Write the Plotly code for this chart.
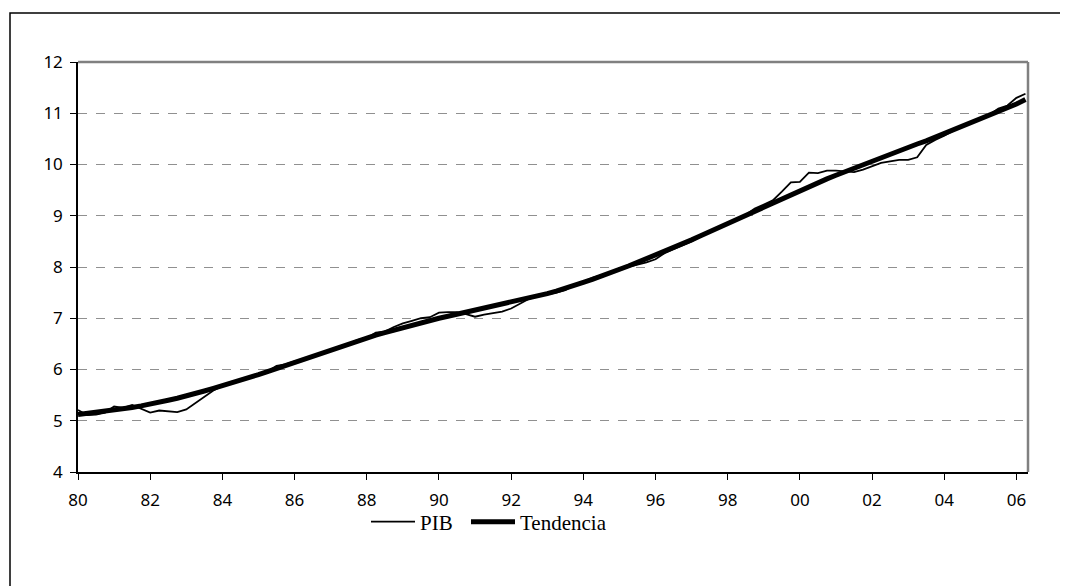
import plotly.graph_objects as go

# Quarterly data 1980Q1 .. 2006Q2
start_year = 1980
pib = [
    5.21, 5.11, 5.12, 5.16,
    5.28, 5.25, 5.31, 5.24,
    5.16, 5.20, 5.18, 5.17,
    5.22, 5.34, 5.47, 5.59,
    5.68, 5.76, 5.80, 5.84,
    5.90, 5.96, 6.07, 6.10,
    6.16, 6.20, 6.26, 6.33,
    6.39, 6.45, 6.50, 6.58,
    6.61, 6.72, 6.74, 6.83,
    6.90, 6.95, 7.00, 7.02,
    7.11, 7.12, 7.12, 7.08,
    7.03, 7.07, 7.10, 7.13,
    7.19, 7.28, 7.38, 7.43,
    7.46, 7.50, 7.55, 7.65,
    7.71, 7.79, 7.84, 7.90,
    7.95, 8.00, 8.04, 8.09,
    8.15, 8.27, 8.35, 8.43,
    8.50, 8.60, 8.68, 8.76,
    8.85, 8.93, 9.02, 9.14,
    9.22, 9.30, 9.47, 9.65,
    9.66, 9.84, 9.83, 9.88,
    9.88, 9.87, 9.85, 9.90,
    9.97, 10.03, 10.06, 10.09,
    10.09, 10.14, 10.38, 10.48,
    10.56, 10.66, 10.74, 10.82,
    10.90, 10.97, 11.09, 11.15,
    11.30, 11.38,
]
tendencia = [
    5.12, 5.14, 5.16, 5.18,
    5.20, 5.23, 5.26, 5.29,
    5.32, 5.36, 5.40, 5.44,
    5.48, 5.53, 5.58, 5.63,
    5.68, 5.73, 5.79, 5.84,
    5.90, 5.96, 6.02, 6.08,
    6.14, 6.20, 6.26, 6.33,
    6.39, 6.45, 6.51, 6.56,
    6.62, 6.67, 6.72, 6.77,
    6.82, 6.87, 6.91, 6.96,
    7.00, 7.04, 7.08, 7.11,
    7.15, 7.19, 7.22, 7.26,
    7.30, 7.34, 7.39, 7.43,
    7.48, 7.53, 7.58, 7.64,
    7.70, 7.76, 7.82, 7.88,
    7.95, 8.02, 8.09, 8.16,
    8.23, 8.30, 8.38, 8.45,
    8.53, 8.61, 8.69, 8.77,
    8.85, 8.93, 9.01, 9.10,
    9.18, 9.26, 9.34, 9.42,
    9.50, 9.57, 9.65, 9.72,
    9.79, 9.86, 9.93, 10.00,
    10.06, 10.13, 10.20, 10.26,
    10.33, 10.40, 10.46, 10.53,
    10.60, 10.67, 10.74, 10.81,
    10.88, 10.95, 11.02, 11.10,
    11.18, 11.27,
]
tick_years = [1980, 1982, 1984, 1986, 1988, 1990, 1992, 1994, 1996, 1998,
              2000, 2002, 2004, 2006]
tick_labels = ["80", "82", "84", "86", "88", "90", "92", "94", "96", "98",
               "00", "02", "04", "06"]
y_ticks = [4, 5, 6, 7, 8, 9, 10, 11, 12]

x = [start_year + i / 4 for i in range(len(pib))]

fig = go.Figure()
fig.add_trace(go.Scatter(x=x, y=pib, mode="lines", name="PIB", legend="legend",
                         line=dict(color="black", width=1.8)))
fig.add_trace(go.Scatter(x=x, y=tendencia, mode="lines", name="Tendencia",
                         legend="legend2",
                         line=dict(color="black", width=5)))

# page body has an 8px margin; figure drawn at (8, 8)
OFF = 8
W, H = 1068 - OFF, 586 - OFF
L, T = 78 - OFF, 62 - OFF
R = W - (1028 - OFF)
B = H - (472 - OFF)
pw, ph = W - L - R, H - T - B

def px_x(p):
    return (p - OFF - L) / pw

def px_y(p):
    return (H - B - (p - OFF)) / ph

shapes = [
    # outer frame
    dict(type="rect", xref="paper", yref="paper",
         x0=px_x(10), x1=px_x(1080), y0=px_y(600), y1=px_y(13),
         line=dict(color="black", width=1.5), fillcolor="rgba(0,0,0,0)", layer="below"),
    # gray top and right borders of plot area
    dict(type="line", xref="paper", yref="paper", x0=0, x1=1, y0=1, y1=1,
         line=dict(color="#808080", width=2.5)),
    dict(type="line", xref="paper", yref="paper", x0=1, x1=1, y0=0, y1=1,
         line=dict(color="#808080", width=2.5)),
]

legend_style = dict(orientation="h", xanchor="left", yanchor="middle",
                    font=dict(family="Liberation Serif", size=21, color="black"),
                    bgcolor="rgba(0,0,0,0)", itemwidth=44)

fig.update_layout(
    width=W, height=H,
    margin=dict(l=L, r=R, t=T, b=B),
    paper_bgcolor="white", plot_bgcolor="white",
    showlegend=True,
    legend=dict(x=px_x(366), y=px_y(522), **legend_style),
    legend2=dict(x=px_x(466), y=px_y(522), **legend_style),
    shapes=shapes,
    font=dict(family="Noto Sans", size=17, color="black"),
)
fig.update_xaxes(range=[1980, 2006.32], tickvals=tick_years, ticktext=tick_labels,
                 showgrid=False, zeroline=False, showline=True,
                 linecolor="black", linewidth=1.5, ticks="outside",
                 ticklen=6, tickcolor="black", tickwidth=1, ticklabelstandoff=6,
                 tickfont=dict(family="Noto Sans", size=17, color="black"))
fig.update_yaxes(range=[4, 12], tickvals=y_ticks,
                 showgrid=True, gridcolor="#909090", griddash="dash", gridwidth=1,
                 zeroline=False, showline=True,
                 linecolor="black", linewidth=1.5, ticks="outside",
                 ticklen=6, tickcolor="black", tickwidth=1, ticklabelstandoff=4,
                 tickfont=dict(family="Noto Sans", size=17, color="black"))

fig.write_html("out.html")
